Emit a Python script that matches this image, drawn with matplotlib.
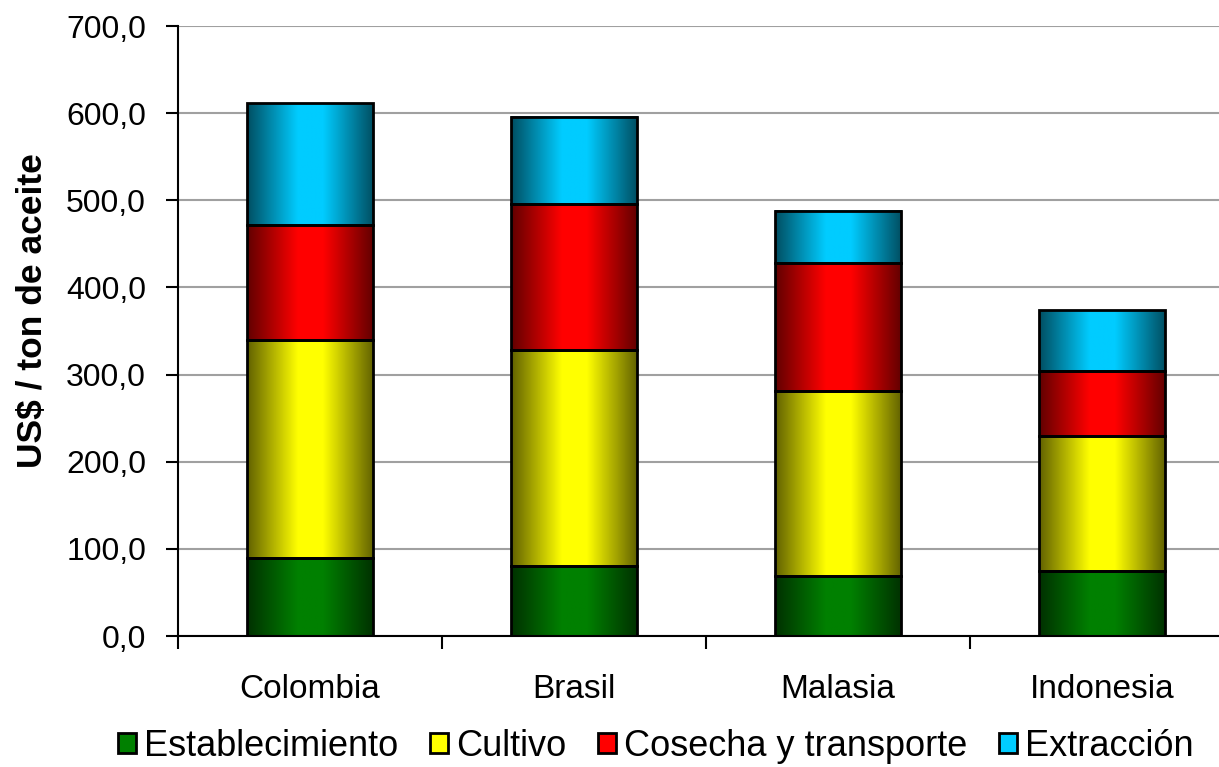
import numpy as np
import matplotlib
matplotlib.use('Agg')
import matplotlib.pyplot as plt
from matplotlib.patches import Rectangle
from matplotlib.colors import to_rgb

countries = ['Colombia', 'Brasil', 'Malasia', 'Indonesia']
series = ['Establecimiento', 'Cultivo', 'Cosecha y transporte', 'Extracción']
establecimiento = [90, 80, 69, 75]
cultivo = [250, 248, 212, 154]
cosecha = [132, 168, 147, 75]
extraccion = [140, 100, 60, 70]
colors = ['#008000', '#ffff00', '#ff0000', '#00ccff']
yticks = [0, 100, 200, 300, 400, 500, 600, 700]

plt.rcParams['font.family'] = ['Liberation Sans', 'DejaVu Sans']

fig = plt.figure(figsize=(12.19, 7.67), dpi=100)
ax = fig.add_axes([178 / 1219, 1 - 636 / 767, (1234 - 178) / 1219, 610 / 767])

width = 0.48
x = np.arange(len(countries))
t = np.linspace(-1, 1, 200)
shade = 0.38 + 0.62 * np.clip(1.25 * (1 - np.abs(t)), 0, 1)

# stacked bars with a dark-bright-dark horizontal gradient
bottoms = np.zeros(len(countries))
for vals, col in zip([establecimiento, cultivo, cosecha, extraccion], colors):
    rgb = np.array(to_rgb(col))
    img = shade[None, :, None] * rgb[None, None, :]
    for i, v in enumerate(vals):
        x0 = x[i] - width / 2
        ax.imshow(img, extent=[x0, x0 + width, bottoms[i], bottoms[i] + v],
                  aspect='auto', interpolation='bilinear', zorder=2)
        ax.add_patch(Rectangle((x0, bottoms[i]), width, v, fill=False,
                               edgecolor='black', linewidth=2, zorder=3))
    bottoms += np.array(vals)

ax.set_xlim(-0.5, len(countries) - 0.5)
ax.set_ylim(0, 700)
ax.set_yticks(yticks)
ax.set_yticklabels([f'{v:.1f}'.replace('.', ',') for v in yticks], fontsize=23)
ax.yaxis.grid(True, color='#a0a0a0', linewidth=1.5, zorder=0)
ax.set_axisbelow(True)

ax.set_xticks(x)
ax.set_xticklabels(countries, fontsize=24)
ax.tick_params(axis='x', length=0, pad=27)
ax.set_xticks(np.arange(len(countries) + 1) - 0.5, minor=True)
ax.tick_params(axis='x', which='minor', length=9, width=1.5, direction='out')
ax.tick_params(axis='y', length=9, width=1.5, direction='out', pad=14)

for s in ['top', 'right']:
    ax.spines[s].set_visible(False)
for s in ['left', 'bottom']:
    ax.spines[s].set_linewidth(1.5)

ax.set_ylabel('US$ / ton de aceite', fontsize=25.5, fontweight='bold', labelpad=10)
ax.yaxis.set_label_coords(-0.122, 0.533)

handles = [Rectangle((0, 0), 1, 1, facecolor=c, edgecolor='black', linewidth=2) for c in colors]
fig.legend(handles, series, loc='center', bbox_to_anchor=(0.538, 0.027), ncol=4,
           frameon=False, handlelength=0.5, handleheight=0.5,
           handletextpad=0.2, columnspacing=0.9,
           prop={'family': ['Liberation Sans', 'DejaVu Sans'], 'size': 26})

fig.savefig('out.png', dpi=100)
